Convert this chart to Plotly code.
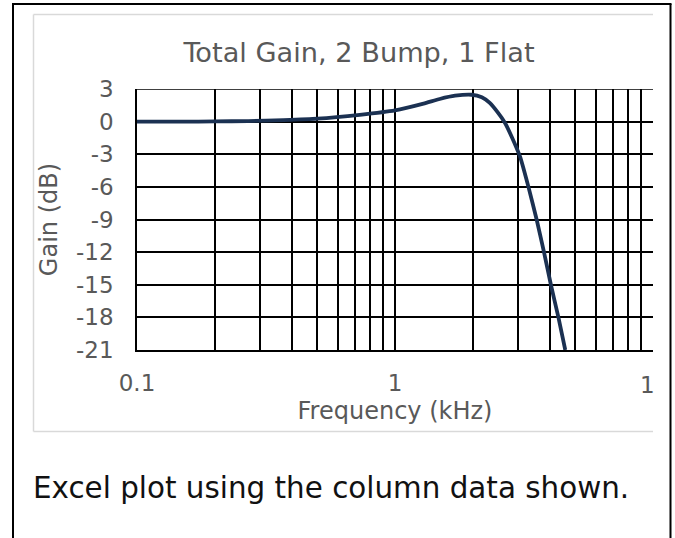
import plotly.graph_objects as go

# ---- data ----
freq_khz = [0.1, 0.15, 0.2, 0.27, 0.37, 0.5, 0.73, 1.0, 1.29, 1.49, 1.71, 1.98,
            2.17, 2.33, 2.51, 2.67, 2.83, 3.05, 3.29, 3.54, 3.78, 4.02, 4.30, 4.57]
gain_db = [0.0, 0.0, 0.02, 0.05, 0.14, 0.27, 0.63, 1.04, 1.66, 2.08, 2.38, 2.47,
           2.24, 1.72, 0.8, -0.12, -1.36, -3.2, -6.0, -9.0, -12.0, -15.0, -18.0, -21.0]

y_ticks = [3, 0, -3, -6, -9, -12, -15, -18, -21]
y_tick_text = ["3", "0", "-3", "-6", "-9", "-12", "-15", "-18", "-21"]
x_major = [0.1, 1]
x_major_text = ["0.1", "1"]
x_minor = [0.2, 0.3, 0.4, 0.5, 0.6, 0.7, 0.8, 0.9, 2, 3, 4, 5, 6, 7, 8, 9]

W, H = 675, 538
L, R, T, B = 137, 22, 89, 188
PW, PH = W - L - R, H - T - B


def px(x):
    return (x - L) / PW


def py(y):
    return (H - B - y) / PH


GRAY = "#595959"
FONT = "DejaVu Sans"

fig = go.Figure()
fig.add_trace(go.Scatter(
    x=freq_khz, y=gain_db, mode="lines",
    line=dict(color="#1B3152", width=3.8, shape="spline", smoothing=0.5),
    hoverinfo="skip", showlegend=False,
))

fig.update_layout(
    width=W, height=H,
    margin=dict(l=L, r=R, t=T, b=B, pad=0),
    paper_bgcolor="white", plot_bgcolor="white",
    font=dict(family=FONT, color=GRAY, size=23),
    title=dict(text="Total Gain, 2 Bump, 1 Flat", x=359 / W, xanchor="center",
               y=1 - 52 / H, yanchor="middle",
               font=dict(family=FONT, size=27.2, color=GRAY)),
    showlegend=False,
)

fig.update_xaxes(
    type="log", range=[-1, 1],
    tickvals=x_major, ticktext=x_major_text,
    ticks="outside", ticklen=12, tickcolor="rgba(0,0,0,0)",
    tickfont=dict(family=FONT, size=23, color=GRAY),
    showgrid=True, gridcolor="black", gridwidth=1.5,
    minor=dict(tickvals=x_minor, showgrid=True, gridcolor="black", gridwidth=1.5,
               ticks=""),
    showline=True, linecolor="black", linewidth=1.5, mirror=False,
    zeroline=False,
    title=dict(text="Frequency (kHz)", standoff=7,
               font=dict(family=FONT, size=24, color=GRAY)),
)
fig.update_yaxes(
    range=[-21, 3], tickvals=y_ticks, ticktext=y_tick_text,
    ticks="outside", ticklen=17, tickcolor="rgba(0,0,0,0)",
    tickfont=dict(family=FONT, size=23, color=GRAY),
    showgrid=True, gridcolor="black", gridwidth=1.5,
    showline=True, linecolor="black", linewidth=1.5, mirror=False,
    zeroline=False,
    title=dict(text="Gain (dB)", standoff=12,
               font=dict(family=FONT, size=24, color=GRAY)),
)

# clipped "10" label at the right end of the x axis
fig.add_annotation(x=1, y=0, xref="x", yref="paper", text="1", showarrow=False,
                   xanchor="right", yanchor="top", xshift=4, yshift=-20,
                   font=dict(family=FONT, size=23, color=GRAY))

# caption below the chart
fig.add_annotation(x=px(31), y=py(488), xref="paper", yref="paper",
                   text="Excel plot using the column data shown.", showarrow=False,
                   xanchor="left", yanchor="middle",
                   font=dict(family=FONT, size=29.4, color="#111111"))

shapes = []
# top border of the plot area (gridline at 3 dB)
shapes.append(dict(type="line", xref="paper", yref="y", x0=0, x1=1, y0=3, y1=3,
                   line=dict(color="black", width=1.5), layer="above"))
# chart area border (light gray), right side clipped
lg = dict(color="#D9D9D9", width=1.5)
shapes.append(dict(type="line", xref="paper", yref="paper", x0=px(33.5), x1=px(653),
                   y0=py(14.5), y1=py(14.5), line=lg))
shapes.append(dict(type="line", xref="paper", yref="paper", x0=px(33.5), x1=px(33.5),
                   y0=py(14.5), y1=py(431.5), line=lg))
shapes.append(dict(type="line", xref="paper", yref="paper", x0=px(33.5), x1=px(653),
                   y0=py(431.5), y1=py(431.5), line=lg))
# outer black frame
bk = dict(color="black", width=2)
shapes.append(dict(type="line", xref="paper", yref="paper", x0=px(13), x1=px(13),
                   y0=py(4), y1=py(545), line=bk))
shapes.append(dict(type="line", xref="paper", yref="paper", x0=px(12), x1=px(671.5),
                   y0=py(4), y1=py(4), line=bk))
shapes.append(dict(type="line", xref="paper", yref="paper", x0=px(670.5), x1=px(670.5),
                   y0=py(4), y1=py(545), line=bk))
fig.update_layout(shapes=shapes)

fig.write_html("out.html", config={"displayModeBar": False})
